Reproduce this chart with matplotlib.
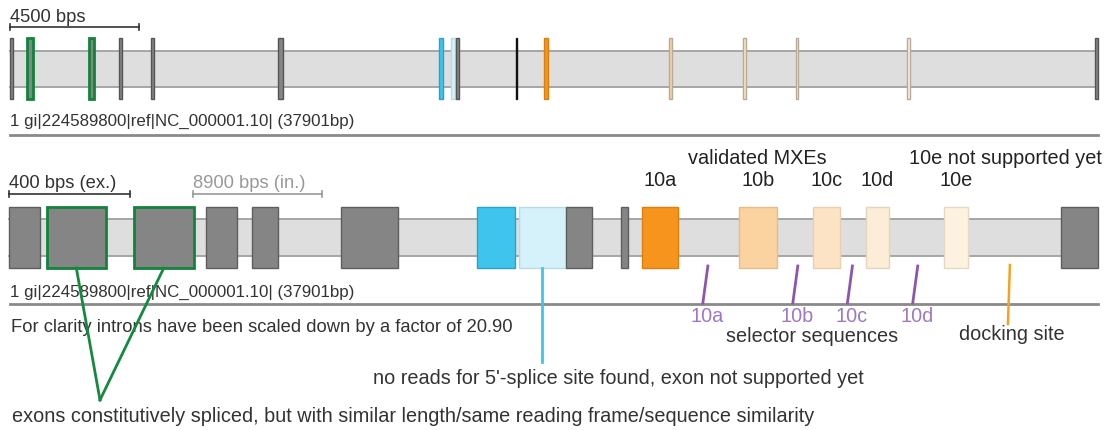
import matplotlib
matplotlib.use("Agg")
import matplotlib.pyplot as plt
from matplotlib.patches import Rectangle

plt.rcParams['font.family'] = ['Liberation Sans', 'DejaVu Sans']

# gene model (bp)
gene_len = 37901
exon_start = [0, 592, 2735, 3812, 4924, 9334, 14944, 15354, 15548, 17633,
              18611, 22949, 25534, 27386, 31261, 37780]
exon_len = [102, 193, 197, 102, 85, 190, 125, 154, 85, 23,
            118, 125, 92, 75, 79, 121]
exon_kind = ['gray', 'green', 'green', 'gray', 'gray', 'gray', 'blue', 'lblue',
             'gray', 'gray', '10a', '10b', '10c', '10d', '10e', 'gray']
intron_factor = 20.90
exon_bar_bp = 400
intron_bar_bp = 8900
top_bar_bp = 4500

mxe_labels = ['10a', '10b', '10c', '10d', '10e']
mxe_index = [10, 11, 12, 13, 14]
selector_bp = [20810, 24521, 26453, 29460]
selector_labels = ['10a', '10b', '10c', '10d']
docking_bp = 34240

fills = {'gray': ('#858585', '#5e5e5e'), 'green': ('#858585', '#11843c'),
         'blue': ('#3fc4ee', '#2aa3cc'), 'lblue': ('#d5f1fa', '#b9dbe7'),
         '10a': ('#f7941d', '#d9800f'), '10b': ('#fbd3a1', '#e6bd8a'),
         '10c': ('#fde3c5', '#e9cfb0'), '10d': ('#fcedd6', '#e3d5bd'),
         '10e': ('#fdf1e0', '#e6d9c6')}

fig = plt.figure(figsize=(11.06, 4.30), dpi=100)
ax = fig.add_axes([0, 0, 1, 1])
ax.set_xlim(0, 1106)
ax.set_ylim(430, 0)
ax.axis('off')

txt = '#333333'
fs_id = 12.2   # "1 gi|..." labels
fs_sc = 13.2   # scale bars / note
fs = 14.3      # annotations

# --- top track: genomic scale ---
x0_top, x1_top = 10, 1098
k_top = (x1_top - x0_top) / gene_len


def top_x(bp):
    return x0_top + bp * k_top


ax.add_patch(Rectangle((top_x(0), 51), top_x(gene_len) - top_x(0), 36,
                       facecolor='#dedede', edgecolor='none', zorder=1))
for yy in (51, 87):
    ax.plot([top_x(0), top_x(gene_len)], [yy, yy], color='#a0a0a0', lw=1.3, zorder=2)
for s, l, kind in zip(exon_start, exon_len, exon_kind):
    fc, ec = fills[kind]
    lw = 2 if kind == 'green' else 1
    if kind == 'gray':
        ec = '#555555' if l > 30 else '#111111'
    elif kind.startswith('10') and kind != '10a':
        ec = '#b8aa98'
    ax.add_patch(Rectangle((top_x(s), 38), max(l * k_top, 0.6), 61,
                           facecolor=fc, edgecolor=ec, lw=lw, zorder=3))

ax.plot([10, top_x(top_bar_bp)], [27, 27], color=txt, lw=1.2)
for xx in (10, top_x(top_bar_bp)):
    ax.plot([xx, xx], [24, 30], color=txt, lw=1.2)
ax.text(10, 17, '4500 bps', fontsize=fs_sc, color=txt, va='center', ha='left')

ax.text(10, 121, '1 gi|224589800|ref|NC_000001.10| (37901bp)', fontsize=fs_id,
        color=txt, va='center', ha='left')
ax.plot([10, 1098], [135, 135], color='#8a8a8a', lw=2)

# --- bottom track: introns scaled down ---
x0_bot, x1_bot = 9, 1098
tot_ex = sum(exon_len)
tot_in = gene_len - tot_ex
k_ex = (x1_bot - x0_bot) / (tot_ex + tot_in / intron_factor)
k_in = k_ex / intron_factor


def bot_x(bp):
    x = x0_bot
    prev = 0
    for s, l in zip(exon_start, exon_len):
        if bp <= s:
            return x + (bp - prev) * k_in
        x += (s - prev) * k_in
        if bp <= s + l:
            return x + (bp - s) * k_ex
        x += l * k_ex
        prev = s + l
    return x + (bp - prev) * k_in


ax.add_patch(Rectangle((bot_x(0), 219), bot_x(gene_len) - bot_x(0), 37,
                       facecolor='#dedede', edgecolor='none', zorder=1))
for yy in (219, 256):
    ax.plot([bot_x(0), bot_x(gene_len)], [yy, yy], color='#a0a0a0', lw=1.3, zorder=2)
for s, l, kind in zip(exon_start, exon_len, exon_kind):
    fc, ec = fills[kind]
    lw = 2 if kind == 'green' else 1
    xa, xb = bot_x(s), bot_x(s + l)
    ax.add_patch(Rectangle((xa, 207), xb - xa, 61, facecolor=fc, edgecolor=ec,
                           lw=lw, zorder=3))

# scale bars
xb_ex = bot_x(0) + exon_bar_bp * k_ex
ax.plot([9, xb_ex], [194, 194], color=txt, lw=1.2)
for xx in (9, xb_ex):
    ax.plot([xx, xx], [191, 197], color=txt, lw=1.2)
ax.text(9, 184, '400 bps (ex.)', fontsize=fs_sc, color=txt, va='center', ha='left')
xi0 = 193
xi1 = xi0 + intron_bar_bp * k_in
ax.plot([xi0, xi1], [194, 194], color='#999999', lw=1.2)
for xx in (xi0, xi1):
    ax.plot([xx, xx], [191, 197], color='#999999', lw=1.2)
ax.text(xi0, 184, '8900 bps (in.)', fontsize=fs_sc, color='#999999', va='center', ha='left')

# MXE labels
for lab, i in zip(mxe_labels, mxe_index):
    xc = (bot_x(exon_start[i]) + bot_x(exon_start[i] + exon_len[i])) / 2
    ax.text(xc, 180, lab, fontsize=fs, color='#222222', ha='center', va='center')
ax.text(757, 158, 'validated MXEs', fontsize=fs, color='#222222', ha='center', va='center')
ax.text(1005, 158, '10e not supported yet', fontsize=fs, color='#222222',
        ha='center', va='center')

ax.text(10, 292, '1 gi|224589800|ref|NC_000001.10| (37901bp)', fontsize=fs_id,
        color=txt, va='center', ha='left')
ax.plot([10, 1098], [304, 304], color='#8a8a8a', lw=2)
ax.text(11, 327, 'For clarity introns have been scaled down by a factor of 20.90',
        fontsize=fs_sc, color=txt, va='center', ha='left')

# selector sequences
for bp, lab in zip(selector_bp, selector_labels):
    xt = bot_x(bp)
    ax.plot([xt, xt - 5], [266, 303], color='#8d55b0', lw=2, zorder=4)
    ax.text(xt - 1, 317, lab, fontsize=fs, color='#a077c4', ha='center', va='center')
ax.text(812, 337, 'selector sequences', fontsize=fs, color=txt, ha='center', va='center')

xd = bot_x(docking_bp)
ax.plot([xd, xd - 2], [265, 324], color='#f5a31f', lw=1.8, zorder=4)
ax.text(1012, 335, 'docking site', fontsize=fs, color=txt, ha='center', va='center')

# no-reads exon
i_lb = exon_kind.index('lblue')
xl = (bot_x(exon_start[i_lb]) + bot_x(exon_start[i_lb] + exon_len[i_lb])) / 2
ax.plot([xl, xl], [268, 362], color='#3fc4ee', lw=2, zorder=4)
ax.text(373, 378, "no reads for 5'-splice site found, exon not supported yet",
        fontsize=fs, color=txt, ha='left', va='center')

# constitutive exons V
vx, vy = 100, 400
for i in (1, 2):
    xm = (bot_x(exon_start[i]) + bot_x(exon_start[i] + exon_len[i])) / 2
    ax.plot([xm, vx], [268, vy], color='#138a3e', lw=2, zorder=4)
ax.text(12, 416, 'exons constitutively spliced, but with similar length/same reading '
        'frame/sequence similarity', fontsize=fs, color=txt, ha='left', va='center')

fig.savefig('out.png', dpi=100)
